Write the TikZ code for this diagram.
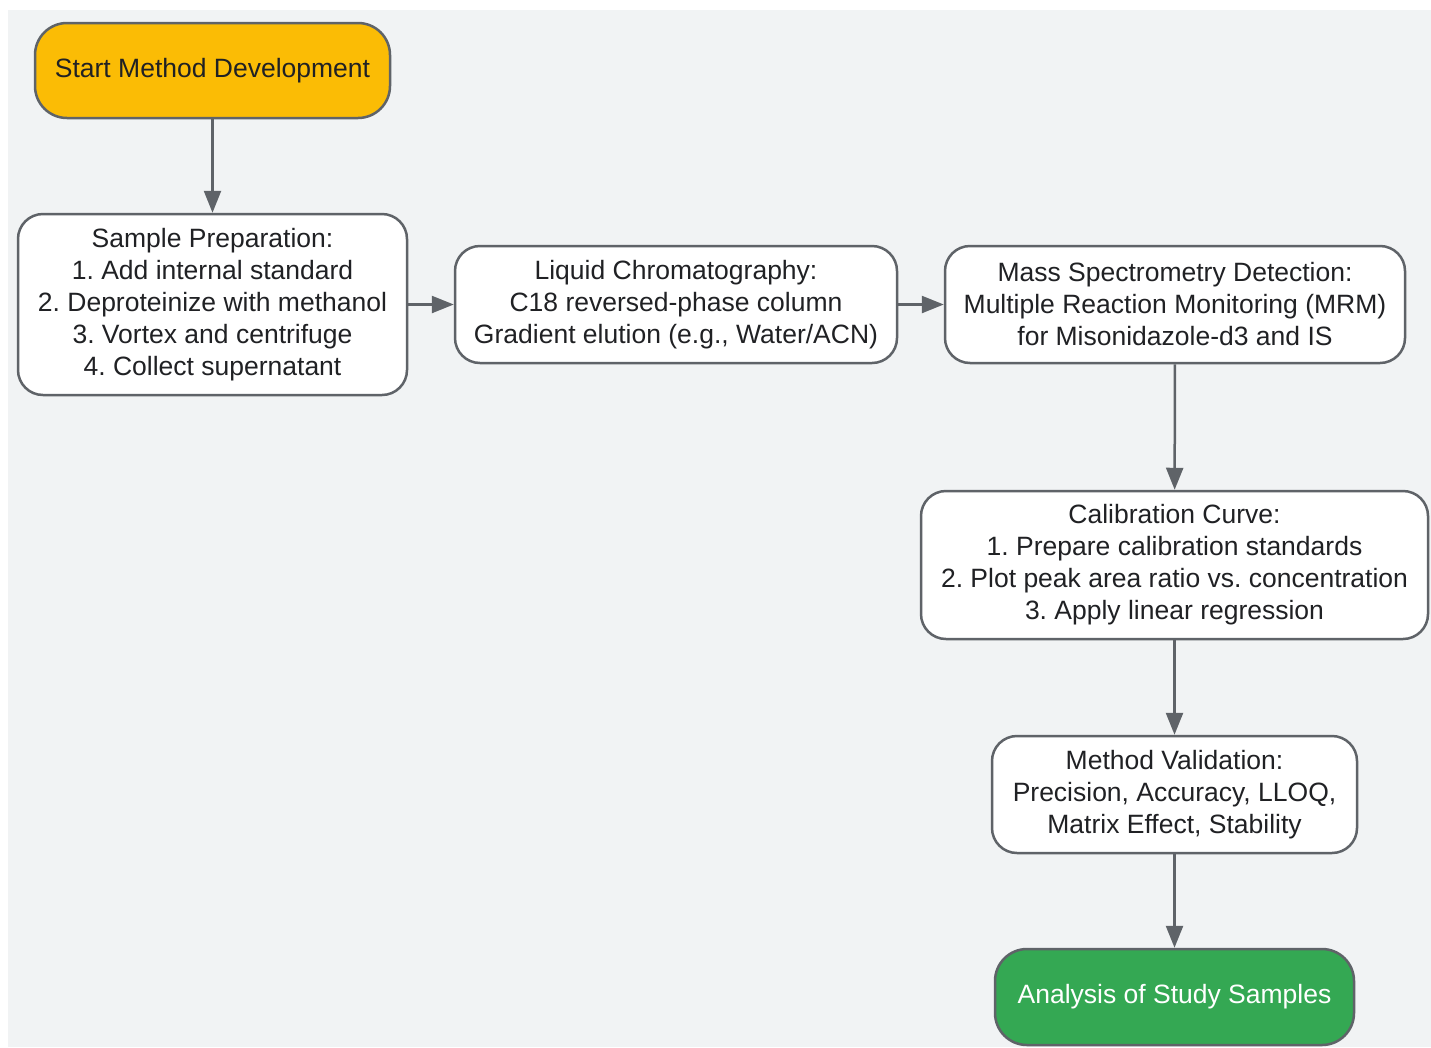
\documentclass[tikz,border=0pt]{standalone}
\usepackage{fontspec}
\setmainfont{Liberation Sans}
\frenchspacing
\usetikzlibrary{arrows.meta}
\definecolor{edgegray}{HTML}{5F6368}
\definecolor{startyellow}{HTML}{FBBC05}
\definecolor{endgreen}{HTML}{34A853}
\definecolor{bggray}{HTML}{F1F3F4}
\definecolor{textdark}{HTML}{202124}
\begin{document}
\begin{tikzpicture}[x=1pt,y=-1pt,
    box/.style={draw=edgegray, line width=2.5pt, rounded corners=25pt, fill=white,
      align=center, text=textdark, inner sep=0pt, font=\fontsize{26.5}{32}\selectfont},
    terminal/.style={box, rounded corners=32pt},
    flow/.style={draw=edgegray, line width=2.5pt, -{Triangle[length=22pt,width=17pt]}}]
    \useasboundingbox (0,0) rectangle (1431,1047);
    \fill[bggray] (8,10) rectangle (1431,1047);
    %steps of the method
    \node[terminal, fill=startyellow, minimum width=355pt, minimum height=95pt] (start) at (212.5,70.5) {Start Method Development};
    \node[box, minimum width=389pt, minimum height=181pt] (prep) at (212.5,304.5) {Sample Preparation:\\1. Add internal standard\\2. Deproteinize with methanol\\3. Vortex and centrifuge\\4. Collect supernatant};
    \node[box, minimum width=442pt, minimum height=117pt] (lc) at (676,304.5) {Liquid Chromatography:\\C18 reversed-phase column\\Gradient elution (e.g., Water/ACN)};
    \node[box, minimum width=460pt, minimum height=117pt] (ms) at (1175,304.5) {Mass Spectrometry Detection:\\Multiple Reaction Monitoring (MRM)\\for Misonidazole-d3 and IS};
    \node[box, minimum width=507pt, minimum height=148pt] (calib) at (1174.5,565) {Calibration Curve:\\1. Prepare calibration standards\\2. Plot peak area ratio vs. concentration\\3. Apply linear regression};
    \node[box, minimum width=365pt, minimum height=117pt] (valid) at (1174.5,794.5) {Method Validation:\\Precision, Accuracy, LLOQ,\\Matrix Effect, Stability};
    \node[terminal, fill=endgreen, text=white, minimum width=359pt, minimum height=96pt] (study) at (1174.5,997) {Analysis of Study Samples};
    %connectors
    \draw[flow] (start) -- (prep);
    \draw[flow] (prep) -- (lc);
    \draw[flow] (lc) -- (ms);
    \draw[flow] (ms) -- (calib);
    \draw[flow] (calib) -- (valid);
    \draw[flow] (valid) -- (study);
\end{tikzpicture}
\end{document}
